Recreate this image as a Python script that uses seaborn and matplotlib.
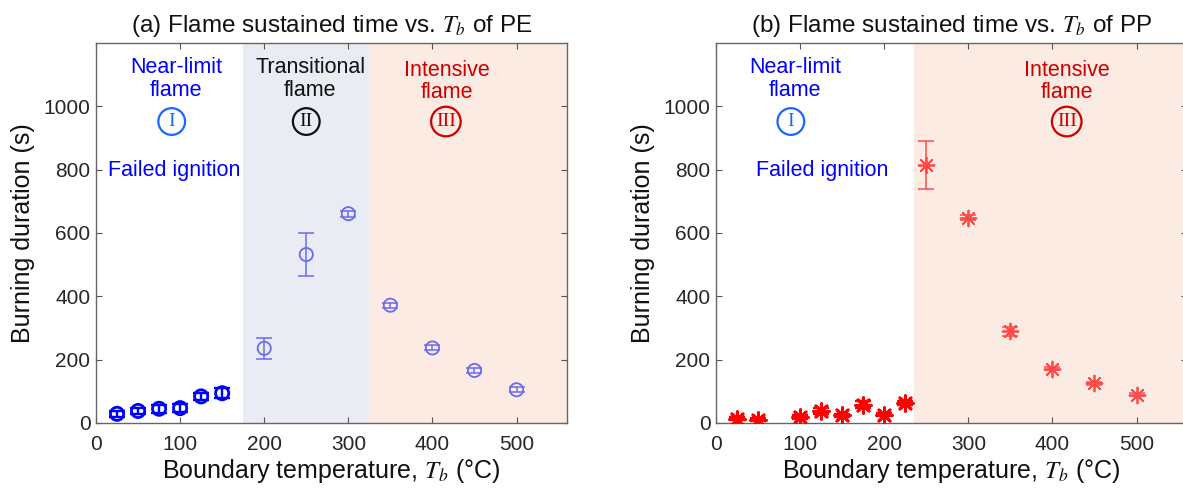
import numpy as np
import pandas as pd
import matplotlib
matplotlib.use("Agg")
import matplotlib.pyplot as plt
import seaborn as sns

# ---------------- data ----------------
pe_temp = [25, 50, 75, 100, 125, 150, 200, 250, 300, 350, 400, 450, 500]
pe_dur = [29, 38, 45, 47, 84, 94, 236, 532, 661, 372, 237, 166, 105]
pe_err = [10, 10, 12, 12, 12, 15, 33, 68, 10, 8, 8, 8, 8]

pp_temp = [25, 50, 100, 125, 150, 175, 200, 225, 250, 300, 350, 400, 450, 500]
pp_dur = [14, 10, 19, 38, 24, 58, 26, 63, 815, 648, 289, 171, 126, 89]
pp_err = [5, 5, 6, 8, 6, 12, 5, 6, 75, 8, 15, 5, 5, 5]

pe_split = 6   # first points: near-limit flame (strong colour)
pp_split = 8

xticks = [0, 100, 200, 300, 400, 500]
yticks = [0, 200, 400, 600, 800, 1000]

titles = [r"(a) Flame sustained time vs. $T_b$ of PE",
          r"(b) Flame sustained time vs. $T_b$ of PP"]
xlabel = r"Boundary temperature, $T_b$ (°C)"
ylabel = "Burning duration (s)"

# ---------------- style ----------------
sns.set_theme(style="ticks")
plt.rcParams["font.family"] = ["Liberation Sans", "DejaVu Sans"]
plt.rcParams["mathtext.fontset"] = "stix"

W, H = 1183, 491
fig = plt.figure(figsize=(W / 100, H / 100), dpi=100)
ax_l = fig.add_axes([96 / W, 1 - 423 / H, 471 / W, 380 / H])
ax_r = fig.add_axes([716 / W, 1 - 423 / H, 471 / W, 380 / H])

GREY_BLUE = "#e9ecf2"
PEACH = "#fbebe2"
BLUE = "#0000ff"
LBLUE = "#6b6bf0"
RED = "#ff0000"
LRED = "#ff4a4a"
DRED = "#cc0000"
CBLUE = "#1a66ff"


def style_axes(ax, title):
    ax.set_xlim(0, 560)
    ax.set_ylim(0, 1200)
    ax.set_xticks(xticks)
    ax.set_yticks(yticks)
    ax.tick_params(direction="in", length=4, width=0.8, colors="#555555",
                   labelcolor="#262626", labelsize=15, top=True, right=True)
    ax.tick_params(axis="x", pad=9)
    ax.tick_params(axis="y", pad=4)
    for s in ax.spines.values():
        s.set_color("#666666")
        s.set_linewidth(1.0)
        s.set_visible(True)
    ax.set_title(title, fontsize=17.5, color="#111111", pad=8)
    ax.set_xlabel(xlabel, fontsize=18, color="#111111", labelpad=2)
    ax.set_ylabel(ylabel, fontsize=18, color="#111111", labelpad=6)


def draw_series(ax, xs, ys, es, split, c1, c2, marker, s, lw):
    df = pd.DataFrame({"T": xs, "D": ys, "E": es})
    d1, d2 = df.iloc[:split], df.iloc[split:]
    for d, c, w in [(d1, c1, lw + 0.7), (d2, c2, lw)]:
        ax.errorbar(d["T"], d["D"], yerr=d["E"], fmt="none", ecolor=c,
                    elinewidth=w * 0.85, capsize=5.5, capthick=w * 0.85, zorder=3)
        if marker == "o":
            sns.scatterplot(data=d, x="T", y="D", ax=ax, marker="o", s=s,
                            facecolors="none", edgecolor=c, linewidth=w,
                            zorder=4, legend=False)
        else:
            sns.scatterplot(data=d, x="T", y="D", ax=ax, marker=marker, s=s,
                            color=c, linewidth=w, zorder=4, legend=False)


def circ(ax, x, y, label, color):
    ax.text(x, y, label, ha="center", va="center", fontsize=14,
            family=["Liberation Serif", "DejaVu Serif"], color=color,
            bbox=dict(boxstyle="circle,pad=0.25", fc="none", ec=color, lw=1.6),
            zorder=5)


TXT = 15.5
LS = 1.1

# ---- left panel (PE) ----
ax_l.axvspan(175, 325, color=GREY_BLUE, lw=0, zorder=0)
ax_l.axvspan(325, 560, color=PEACH, lw=0, zorder=0)
draw_series(ax_l, pe_temp, pe_dur, pe_err, pe_split, BLUE, LBLUE, "o", 90, 1.3)
style_axes(ax_l, titles[0])
ax_l.text(95, 1086, "Near-limit\nflame", ha="center", va="center",
          fontsize=TXT, color=BLUE, linespacing=LS)
circ(ax_l, 90, 952, "I", CBLUE)
ax_l.text(93, 797, "Failed ignition", ha="center", va="center",
          fontsize=TXT, color=BLUE)
ax_l.text(255, 1086, "Transitional\nflame", ha="center", va="center",
          fontsize=TXT, color="#111111", linespacing=LS)
circ(ax_l, 250, 952, "II", "#111111")
ax_l.text(417, 1078, "Intensive\nflame", ha="center", va="center",
          fontsize=TXT, color=DRED, linespacing=LS)
circ(ax_l, 416, 952, "III", DRED)

# ---- right panel (PP) ----
ax_r.axvspan(235, 560, color=PEACH, lw=0, zorder=0)
draw_series(ax_r, pp_temp, pp_dur, pp_err, pp_split, RED, LRED, (8, 2, 0), 130, 1.3)
style_axes(ax_r, titles[1])
ax_r.text(94, 1086, "Near-limit\nflame", ha="center", va="center",
          fontsize=TXT, color=BLUE, linespacing=LS)
circ(ax_r, 89, 952, "I", CBLUE)
ax_r.text(126, 797, "Failed ignition", ha="center", va="center",
          fontsize=TXT, color=BLUE)
ax_r.text(417, 1078, "Intensive\nflame", ha="center", va="center",
          fontsize=TXT, color=DRED, linespacing=LS)
circ(ax_r, 417, 952, "III", DRED)

fig.savefig("out.png", dpi=100)
